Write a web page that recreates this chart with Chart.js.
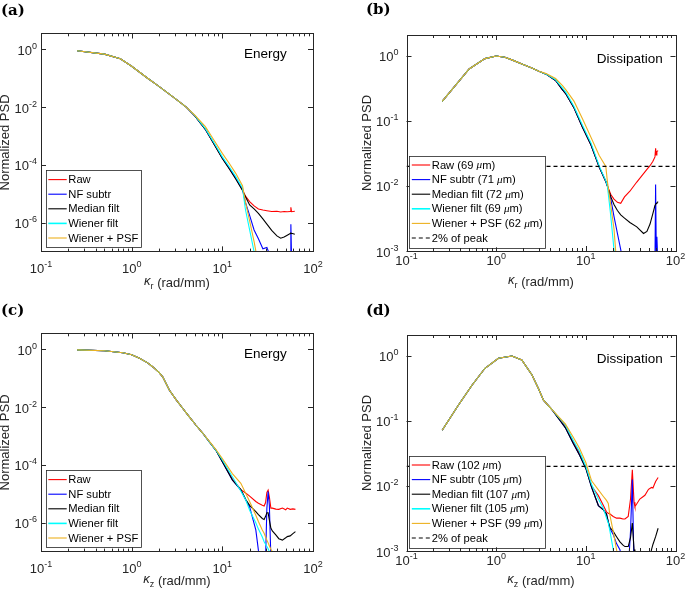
<!DOCTYPE html>
<html>
<head>
<meta charset="utf-8">
<script src="https://cdn.jsdelivr.net/npm/chart.js@4/dist/chart.umd.min.js"></script>
<style>
  body { margin: 0; background: #fff; overflow: hidden; width: 685px; height: 594px; }
  canvas { position: absolute; }
</style>
</head>
<body>
<canvas id="pa" width="340" height="300" style="left:0;top:0"></canvas>
<canvas id="pb" width="345" height="300" style="left:340px;top:0"></canvas>
<canvas id="pc" width="340" height="294" style="left:0;top:300px"></canvas>
<canvas id="pd" width="345" height="294" style="left:340px;top:300px"></canvas>
<script>
// --- data (kappa in rad/mm, normalized PSD) ---

// (a) energy, radial
const kA = [0.25, 0.5, 0.75, 1, 1.5, 2, 3, 4, 5, 6.5, 8.5, 10, 12, 14, 16.7, 18, 20, 22.4, 25, 28, 31, 35, 40, 44, 48, 52, 56, 57, 58, 63]
const aRaw = [0.89, 0.68, 0.47, 0.26, 0.10, 5.2e-2, 2.0e-2, 1.0e-2, 4.9e-3, 1.7e-3, 4.1e-4, 1.7e-4, 7.4e-5, 3.5e-5, 1.35e-5, 8.3e-6, 5.4e-6, 3.8e-6, 3.0e-6, 2.75e-6, 2.6e-6, 2.45e-6, 2.5e-6, 2.35e-6, 2.45e-6, 2.4e-6, 2.45e-6, 3.4e-6, 2.4e-6, 2.5e-6]
const aNF = [0.89, 0.68, 0.47, 0.26, 0.10, 5.2e-2, 2.0e-2, 1.0e-2, 4.9e-3, 1.7e-3, 4.2e-4, 1.75e-4, 7.6e-5, 3.6e-5, 1.4e-5, 5.0e-6, 1.8e-6, 5.6e-7, 2.8e-7, 1.26e-7, 1.4e-7, 5e-8, 3e-8, 3e-8, 3e-8, 3e-8, 5e-8, 8.9e-7, 6.3e-8, 4e-8]
const aMed = [0.89, 0.68, 0.47, 0.26, 0.10, 5.2e-2, 2.0e-2, 1.0e-2, 4.9e-3, 1.7e-3, 4.0e-4, 1.66e-4, 7.1e-5, 3.3e-5, 1.3e-5, 7.9e-6, 4.1e-6, 3.0e-6, 2.1e-6, 1.35e-6, 8.9e-7, 5.4e-7, 3.5e-7, 2.9e-7, 3.2e-7, 3.7e-7, 4.2e-7, 4.4e-7, 4.3e-7, 4.0e-7]
const aWien = [0.89, 0.68, 0.47, 0.26, 0.10, 5.2e-2, 2.0e-2, 1.0e-2, 5.0e-3, 1.8e-3, 4.5e-4, 1.9e-4, 8.3e-5, 4.0e-5, 1.55e-5, 2.8e-6, 5.6e-7, 1.0e-7, 1.6e-8, null, null, null, null, null, null, null, null, null, null, null]
const aPSF = [0.89, 0.68, 0.47, 0.26, 0.10, 5.2e-2, 2.0e-2, 1.0e-2, 5.2e-3, 2.1e-3, 5.6e-4, 2.5e-4, 1.1e-4, 5.2e-5, 1.9e-5, 5.2e-6, 1.15e-6, 2.2e-7, 3.5e-8, null, null, null, null, null, null, null, null, null, null, null]

// (b) dissipation, radial
const kB = [0.25, 0.5, 0.75, 1, 1.25, 1.5, 2, 2.5, 3, 3.6, 4.6, 5.5, 6, 7.4, 9.2, 11.4, 14.1, 16.7, 17.4, 19, 20.6, 22.5, 24.5, 27, 31, 37, 44, 48, 52, 56, 59, 60, 61, 62, 64]
const bRaw = [0.2, 0.63, 0.91, 1.0, 0.955, 0.87, 0.74, 0.65, 0.58, 0.525, 0.42, 0.30, 0.26, 0.158, 0.079, 0.043, 0.0195, 0.0117, 0.0100, 7.4e-3, 6.3e-3, 5.6e-3, 5.4e-3, 6.8e-3, 8.3e-3, 1.15e-2, 1.55e-2, 1.8e-2, 2.05e-2, 2.4e-2, 2.8e-2, 3.8e-2, 3.0e-2, 3.4e-2, 3.5e-2]
const bNF = [0.2, 0.63, 0.91, 1.0, 0.955, 0.87, 0.74, 0.65, 0.58, 0.525, 0.42, 0.30, 0.26, 0.158, 0.079, 0.043, 0.0195, 0.0117, 0.0100, 6.3e-3, 3.4e-3, 1.86e-3, 1.05e-3, 5e-4, 5e-4, 5e-4, 5e-4, 5e-4, 5e-4, 5e-4, 6.3e-4, 1.05e-2, 1.0e-3, 1.66e-3, 5e-4]
const bMed = [0.2, 0.63, 0.91, 1.0, 0.955, 0.87, 0.74, 0.65, 0.58, 0.525, 0.42, 0.30, 0.26, 0.158, 0.079, 0.043, 0.0195, 0.0117, 0.0100, 6.8e-3, 5.2e-3, 4.2e-3, 3.6e-3, 3.2e-3, 2.75e-3, 2.35e-3, 1.86e-3, 2.0e-3, 2.6e-3, 3.8e-3, 5.0e-3, 5.2e-3, 5.4e-3, 5.5e-3, 5.75e-3]
const bWien = [0.2, 0.63, 0.91, 1.0, 0.955, 0.87, 0.74, 0.65, 0.58, 0.525, 0.43, 0.32, 0.275, 0.166, 0.085, 0.046, 0.0204, 0.012, 0.0100, 3.4e-3, 1.05e-3, 3.2e-4, null, null, null, null, null, null, null, null, null, null, null, null, null]
const bPSF = [0.2, 0.63, 0.91, 1.0, 0.955, 0.87, 0.74, 0.65, 0.58, 0.535, 0.45, 0.35, 0.30, 0.20, 0.107, 0.056, 0.0295, 0.020, 0.0117, 5.0e-3, 2.2e-3, 4.5e-4, null, null, null, null, null, null, null, null, null, null, null, null, null]

// (c) energy, axial
const kC = [0.25, 0.5, 0.8, 1, 1.22, 1.5, 1.7, 2, 2.2, 2.6, 3.1, 3.65, 4.2, 5.1, 6, 7.2, 8.5, 10, 12.9, 16, 18.2, 20, 23.4, 25, 27.6, 28.9, 30, 31, 32, 33, 34.3, 35.6, 38.9, 42, 46, 50, 52, 56, 60, 64]
const cRaw = [0.955, 0.89, 0.76, 0.65, 0.49, 0.34, 0.25, 0.158, 0.112, 0.039, 0.0178, 9.1e-3, 5.2e-3, 2.4e-3, 1.32e-3, 6.3e-4, 3.2e-4, 1.35e-4, 3.3e-5, 1.4e-5, 1.05e-5, 8.3e-6, 5.4e-6, 4.7e-6, 4.0e-6, 3.8e-6, 5.0e-6, 1.12e-5, 1.35e-5, 7.9e-6, 3.2e-6, 3.2e-6, 2.95e-6, 2.9e-6, 3.2e-6, 2.8e-6, 3.2e-6, 2.9e-6, 3.0e-6, 2.9e-6]
const cNF = [0.955, 0.89, 0.76, 0.65, 0.49, 0.34, 0.25, 0.158, 0.112, 0.039, 0.0178, 9.1e-3, 5.2e-3, 2.4e-3, 1.32e-3, 6.3e-4, 3.2e-4, 1.3e-4, 3.0e-5, 1.35e-5, 6.0e-6, 3.5e-6, 5.6e-7, 1.1e-7, 3e-8, 3e-8, 6.3e-8, 3.2e-6, 1.2e-5, 4.0e-6, 6.3e-8, 3e-8, null, null, null, null, null, null, null, null]
const cMed = [0.955, 0.89, 0.76, 0.65, 0.49, 0.34, 0.25, 0.158, 0.112, 0.039, 0.0178, 9.1e-3, 5.2e-3, 2.4e-3, 1.32e-3, 6.3e-4, 3.2e-4, 1.3e-4, 3.0e-5, 1.4e-5, 6.2e-6, 4.0e-6, 2.4e-6, 1.9e-6, 1.4e-6, 1.3e-6, 1.66e-6, 2.2e-6, 2.2e-6, 1.26e-6, 6.5e-7, 5.2e-7, 3.8e-7, 2.8e-7, 2.5e-7, 3.0e-7, 3.3e-7, 3.5e-7, 4.2e-7, 4.9e-7]
const cWien = [0.955, 0.89, 0.76, 0.65, 0.49, 0.34, 0.25, 0.158, 0.112, 0.039, 0.0178, 9.1e-3, 5.2e-3, 2.4e-3, 1.32e-3, 6.3e-4, 3.2e-4, 1.48e-4, 3.9e-5, 1.26e-5, 6.0e-6, 2.7e-6, 1.0e-6, 6.0e-7, 3.2e-7, 2.2e-7, 1.8e-7, 1.5e-7, 1.26e-7, 1.0e-7, 7.6e-8, 5e-8, null, null, null, null, null, null, null, null]
const cPSF = [0.955, 0.89, 0.76, 0.65, 0.49, 0.34, 0.25, 0.158, 0.112, 0.039, 0.0178, 9.1e-3, 5.2e-3, 2.4e-3, 1.32e-3, 6.5e-4, 3.4e-4, 1.66e-4, 5.0e-5, 2.3e-5, 1.0e-5, 5.4e-6, 1.8e-6, 1.1e-6, 5.6e-7, 4.3e-7, 3.2e-7, 2.5e-7, 2.0e-7, 1.6e-7, 1.2e-7, 1.0e-7, 5e-8, null, null, null, null, null, null, null]

// (d) dissipation, axial
const kD = [0.25, 0.38, 0.54, 0.75, 1.06, 1.5, 1.93, 2.5, 2.96, 3.37, 4.17, 5.2, 5.9, 7.25, 8.5, 10, 11.6, 13.8, 15.7, 17, 17.8, 18.6, 20.2, 22, 24, 26, 27.3, 29.7, 31.5, 33, 34.5, 35.3, 40, 45.6, 50, 54, 56, 60, 64]
const dRaw = [0.072, 0.176, 0.358, 0.646, 0.92, 1.0, 0.867, 0.513, 0.316, 0.209, 0.151, 0.105, 0.085, 0.048, 0.032, 0.0195, 0.0100, 7.1e-3, 5.0e-3, 4.0e-3, 3.8e-3, 3.7e-3, 3.4e-3, 3.2e-3, 3.2e-3, 3.1e-3, 3.1e-3, 3.4e-3, 6.3e-3, 1.78e-2, 5.6e-3, 4.8e-3, 6.3e-3, 7.2e-3, 8.9e-3, 9.5e-3, 9.3e-3, 1.17e-2, 1.35e-2]
const dNF = [0.072, 0.176, 0.358, 0.646, 0.92, 1.0, 0.867, 0.513, 0.316, 0.209, 0.151, 0.1, 0.079, 0.045, 0.030, 0.0186, 9.5e-3, 5.0e-3, 4.3e-3, 3.7e-3, 2.8e-3, 2.2e-3, 1.8e-3, 1.3e-3, 1.05e-3, 6.3e-4, 5e-4, 5e-4, 2.0e-3, 1.26e-2, 5e-4, 4e-4, null, null, null, null, null, null, null]
const dMed = [0.072, 0.176, 0.358, 0.646, 0.92, 1.0, 0.867, 0.513, 0.316, 0.209, 0.151, 0.1, 0.079, 0.045, 0.030, 0.0186, 9.5e-3, 5.0e-3, 4.3e-3, 3.7e-3, 2.8e-3, 2.3e-3, 2.0e-3, 1.66e-3, 1.38e-3, 1.23e-3, 1.17e-3, 1.17e-3, 1.6e-3, 2.7e-3, 1.05e-3, 6.3e-4, 5e-4, 5e-4, 6.3e-4, 1.05e-3, 1.26e-3, 1.66e-3, 2.24e-3]
const dWien = [0.072, 0.176, 0.358, 0.646, 0.92, 1.0, 0.867, 0.513, 0.316, 0.209, 0.151, 0.107, 0.087, 0.05, 0.034, 0.02, 0.0105, 6.3e-3, 4.5e-3, 3.2e-3, 2.7e-3, 2.0e-3, 1.05e-3, 5e-4, null, null, null, null, null, null, null, null, null, null, null, null, null, null, null]
const dPSF = [0.072, 0.176, 0.358, 0.646, 0.92, 1.0, 0.867, 0.513, 0.316, 0.209, 0.151, 0.109, 0.09, 0.056, 0.038, 0.023, 0.012, 8.7e-3, 6.9e-3, 6.0e-3, 5.4e-3, 3.5e-3, 2.0e-3, 1.05e-3, 5e-4, null, null, null, null, null, null, null, null, null, null, null, null, null, null]

const xTicks = [0.1, 1, 10, 100]
const yTicksEnergy = [1, 1e-2, 1e-4, 1e-6]
const yTicksDiss = [1, 1e-1, 1e-2, 1e-3]
const namesEnergy = ['Raw', 'NF subtr', 'Median filt', 'Wiener filt', 'Wiener + PSF']
const namesB = ['Raw (69 μm)', 'NF subtr (71 μm)', 'Median filt (72 μm)', 'Wiener filt (69 μm)', 'Wiener + PSF (62 μm)']
const namesD = ['Raw (102 μm)', 'NF subtr (105 μm)', 'Median filt (107 μm)', 'Wiener filt (105 μm)', 'Wiener + PSF (99 μm)']
const peakLabel = '2% of peak'
const peakLevel = 0.02
const colors = ['#ff0000', '#0000ff', '#000000', '#00ffff', '#edb120']

const SANS = '"Liberation Sans", Arial, sans-serif'
const AX = '#262626'

function powLabel(ctx, v, x, y, align) {
  const e = String(Math.round(Math.log10(v)))
  ctx.font = '13px ' + SANS
  const w1 = ctx.measureText('10').width
  ctx.font = '9px ' + SANS
  const w2 = ctx.measureText(e).width
  const sx = align === 'right' ? x - w1 - w2 : x - (w1 + w2) / 2
  ctx.textAlign = 'left'
  ctx.font = '13px ' + SANS
  ctx.fillText('10', sx, y)
  ctx.font = '9px ' + SANS
  ctx.fillText(e, sx + w1, y - 6)
}

// legend text with an italic mu
function richText(ctx, s, x, y, size, draw) {
  const parts = s.split('μ')
  parts.forEach((p, i) => {
    if (i > 0) {
      ctx.font = `italic ${size}px "Liberation Serif", serif`
      if (draw) ctx.fillText('μ', x, y)
      x += ctx.measureText('μ').width
    }
    ctx.font = `${size}px ${SANS}`
    if (draw) ctx.fillText(p, x, y)
    x += ctx.measureText(p).width
  })
  return x
}

function panel(id, o) {
  const datasets = o.series.map((ys, i) => ({
    label: o.names[i],
    data: o.k.map((k, j) => ({ x: k, y: ys[j] })),
    borderColor: colors[i],
    borderWidth: 1.1,
    pointRadius: 0,
    tension: 0,
    order: 10 - i
  }))
  if (o.peak) {
    datasets.push({
      label: peakLabel,
      data: [{ x: xTicks[0], y: peakLevel }, { x: xTicks[3], y: peakLevel }],
      borderColor: '#000',
      borderWidth: 1.1,
      borderDash: [4, 3],
      pointRadius: 0,
      order: 0
    })
  }

  const decor = {
    id: 'decor',
    afterDraw(chart) {
      const { ctx, chartArea: a, scales: { x, y } } = chart
      ctx.save()
      // ticks, pointing inward on all four sides
      ctx.strokeStyle = AX
      ctx.lineWidth = 1
      ctx.beginPath()
      for (let d = 0.1; d < 99; d *= 10) {
        for (let m = 1; m <= 10; m++) {
          const px = Math.round(x.getPixelForValue(d * m)) + 0.5
          const len = (m === 1 || m === 10) ? 5 : 3
          ctx.moveTo(px, a.bottom); ctx.lineTo(px, a.bottom - len)
          ctx.moveTo(px, a.top); ctx.lineTo(px, a.top + len)
        }
      }
      o.yTicks.forEach(v => {
        const py = Math.round(y.getPixelForValue(v)) + 0.5
        ctx.moveTo(a.left, py); ctx.lineTo(a.left + 5, py)
        ctx.moveTo(a.right, py); ctx.lineTo(a.right - 5, py)
      })
      ctx.stroke()
      ctx.strokeRect(Math.round(a.left) + 0.5, Math.round(a.top) + 0.5, Math.round(a.right - a.left), Math.round(a.bottom - a.top))

      // tick labels
      ctx.fillStyle = AX
      ctx.textBaseline = 'alphabetic'
      xTicks.forEach(v => powLabel(ctx, v, x.getPixelForValue(v), a.bottom + o.xLabGap, 'center'))
      o.yTicks.forEach(v => powLabel(ctx, v, a.left - o.yLabGap, y.getPixelForValue(v) + 5.5, 'right'))

      // axis titles
      ctx.font = '13px ' + SANS
      ctx.save()
      ctx.translate(a.left - o.yTitleGap, (a.top + a.bottom) / 2)
      ctx.rotate(-Math.PI / 2)
      ctx.textAlign = 'center'
      ctx.textBaseline = 'middle'
      ctx.fillText('Normalized PSD', 0, 0)
      ctx.restore()

      ctx.textAlign = 'left'
      ctx.font = 'italic 13px ' + SANS
      const wk = ctx.measureText('κ').width
      ctx.font = '9px ' + SANS
      const ws = ctx.measureText(o.sub).width
      ctx.font = '13px ' + SANS
      const rest = ' (rad/mm)'
      const wr = ctx.measureText(rest).width
      const tx = (a.left + a.right) / 2 - (wk + ws + wr) / 2
      const ty = a.bottom + o.xTitleGap
      ctx.font = 'italic 13px ' + SANS
      ctx.fillText('κ', tx, ty - 2)
      ctx.font = '9px ' + SANS
      ctx.fillText(o.sub, tx + wk, ty + 2)
      ctx.font = '13px ' + SANS
      ctx.fillText(rest, tx + wk + ws, ty)

      // panel letter
      ctx.fillStyle = '#000'
      ctx.font = 'bold 15px "DejaVu Serif", serif'
      ctx.fillText(o.letter, o.letterX, o.letterY)

      // corner note
      ctx.font = '13.5px ' + SANS
      ctx.textAlign = 'right'
      ctx.fillText(o.note, a.right - o.noteDx, o.noteY)

      // legend
      const rows = chart.data.datasets
      const size = 11.2
      const rowH = 14.6
      let maxW = 0
      rows.forEach(ds => { maxW = Math.max(maxW, richText(ctx, ds.label, 0, 0, size, false)) })
      const lx = a.left + o.legDx
      const h = rows.length * rowH + 4
      const ly = a.bottom - o.legDy - h
      const w = 22.6 + maxW + 2.4
      ctx.fillStyle = '#fff'
      ctx.fillRect(lx, ly, w, h)
      ctx.strokeStyle = AX
      ctx.lineWidth = 0.8
      ctx.strokeRect(Math.round(lx) + 0.5, Math.round(ly) + 0.5, Math.round(w), Math.round(h))
      ctx.textAlign = 'left'
      ctx.textBaseline = 'middle'
      rows.forEach((ds, i) => {
        const cy = ly + 2 + rowH * (i + 0.5)
        ctx.strokeStyle = ds.borderColor
        ctx.lineWidth = ds.borderColor === '#00ffff' ? 1.6 : ds.borderWidth
        ctx.setLineDash(ds.borderDash || [])
        ctx.beginPath()
        ctx.moveTo(lx + 2.6, cy)
        ctx.lineTo(lx + 21, cy)
        ctx.stroke()
        ctx.setLineDash([])
        ctx.fillStyle = '#000'
        richText(ctx, ds.label, lx + 22.6, cy + 0.5, size, true)
      })
      ctx.restore()
    }
  }

  new Chart(document.getElementById(id), {
    type: 'line',
    data: { datasets },
    options: {
      responsive: false,
      animation: false,
      devicePixelRatio: 1,
      layout: { padding: o.pad },
      scales: {
        x: { type: 'logarithmic', min: xTicks[0], max: xTicks[3], display: false },
        y: { type: 'logarithmic', min: o.ymin, max: o.ymax, display: false }
      },
      plugins: { legend: { display: false }, tooltip: { enabled: false } }
    },
    plugins: [decor]
  })
}

const energyLayout = { ymin: 1e-7, ymax: 3.58, yTicks: yTicksEnergy, xLabGap: 21, yLabGap: 4, yTitleGap: 35.5, legDx: 4.7, legDy: 4.3, note: 'Energy', noteDx: 26.3, noteY: 58, letterX: 1, peak: false }
const dissLayout = { ymin: 1e-3, ymax: 2.1, yTicks: yTicksDiss, xLabGap: 14, yLabGap: 8, yTitleGap: 39.5, legDx: 2.7, legDy: 3.7, note: 'Dissipation', noteDx: 12.8, noteY: 63, letterX: 26, peak: true }

panel('pa', Object.assign({}, energyLayout, {
  k: kA, series: [aRaw, aNF, aMed, aWien, aPSF], names: namesEnergy, sub: 'r',
  pad: { left: 41, right: 27, top: 33.3, bottom: 48.4 }, xTitleGap: 35, letter: '(a)', letterY: 15
}))
panel('pb', Object.assign({}, dissLayout, {
  k: kB, series: [bRaw, bNF, bMed, bWien, bPSF], names: namesB, sub: 'r',
  pad: { left: 66.5, right: 9.5, top: 35, bottom: 49 }, xTitleGap: 35, letter: '(b)', letterY: 14
}))
panel('pc', Object.assign({}, energyLayout, {
  k: kC, series: [cRaw, cNF, cMed, cWien, cPSF], names: namesEnergy, sub: 'z',
  pad: { left: 41, right: 27, top: 33.3, bottom: 42.4 }, xTitleGap: 33.4, letter: '(c)', letterY: 15
}))
panel('pd', Object.assign({}, dissLayout, {
  k: kD, series: [dRaw, dNF, dMed, dWien, dPSF], names: namesD, sub: 'z',
  pad: { left: 66.5, right: 9.5, top: 35, bottom: 43 }, xTitleGap: 34, letter: '(d)', letterY: 15
}))
</script>
</body>
</html>
